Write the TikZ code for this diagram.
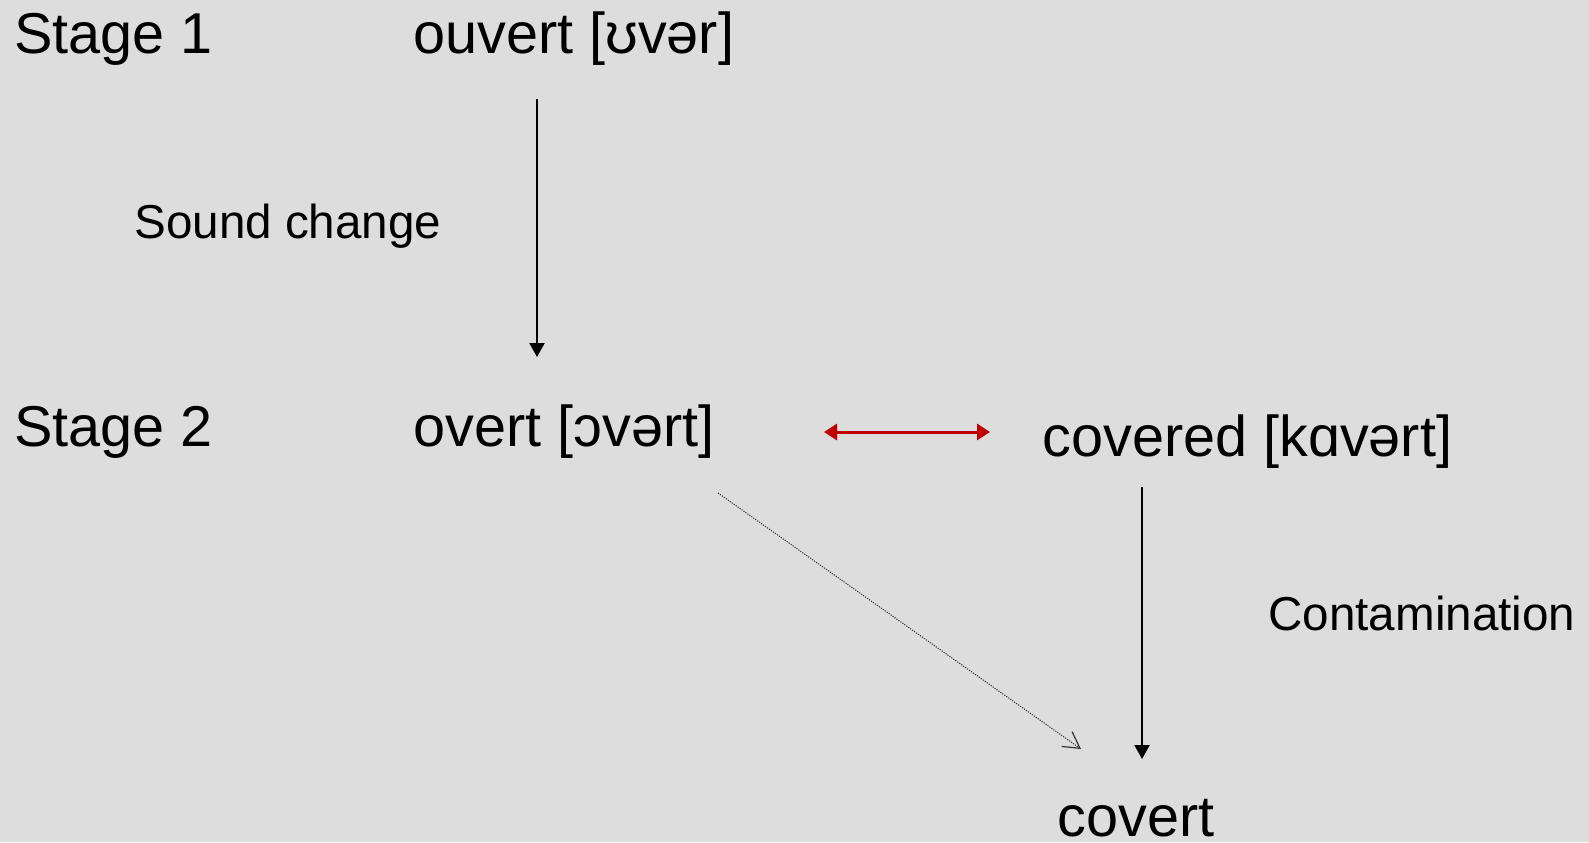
\documentclass[tikz,border=0pt]{standalone}
\usepackage{fontspec}
\setmainfont{Liberation Sans}
\usetikzlibrary{arrows.meta}
\definecolor{bg}{HTML}{DDDDDD}
\definecolor{darkred}{HTML}{C00000}
\begin{document}
\begin{tikzpicture}[x=0.5pt,y=-0.5pt,
  big/.style={anchor=base west,inner sep=0pt,font=\fontsize{28.8pt}{34pt}\selectfont},
  small/.style={anchor=base west,inner sep=0pt,font=\fontsize{23.8pt}{28pt}\selectfont},
  downarrow/.style={draw=black,line width=1pt,-{Triangle[width=7.5pt,length=7pt]}},
  redarrow/.style={draw=darkred,line width=1.5pt,{Triangle[width=8pt,length=6.5pt]}-{Triangle[width=8pt,length=6.5pt]}},
  dotarrow/.style={draw=black!80,line width=0.5pt,dash pattern=on 0.6pt off 0.6pt,-{Straight Barb[length=8pt,width=9pt,line width=0.6pt]}}]
\fill[bg] (0,0) rectangle (1589,842);
\useasboundingbox (0,0) rectangle (1589,842);
\node[big] (s1) at (14,53) {Stage 1};
\node[big] (s2) at (14,446) {Stage 2};
\node[big] (ouvert) at (413,53) {ouvert [ʊvər]};
\node[big] (overt) at (413,446) {overt [ɔvərt]};
\node[big] (covered) at (1042,456) {covered [kɑvərt]};
\node[big] (covert) at (1057,836) {covert};
\node[small] (sound) at (134,238) {Sound change};
\node[small] (contam) at (1268,630) {Contamination};
\coordinate (a1s) at (537,99);
\coordinate (a1e) at (537,357);
\coordinate (rs) at (824,432);
\coordinate (re) at (990,432);
\coordinate (a2s) at (1142,487);
\coordinate (a2e) at (1142,759);
\coordinate (ds) at (718,493);
\coordinate (de) at (1081,749);
\draw[downarrow] (a1s) -- (a1e);
\draw[redarrow] (rs) -- (re);
\draw[downarrow] (a2s) -- (a2e);
\draw[dotarrow] (ds) -- (de);
\end{tikzpicture}
\end{document}
